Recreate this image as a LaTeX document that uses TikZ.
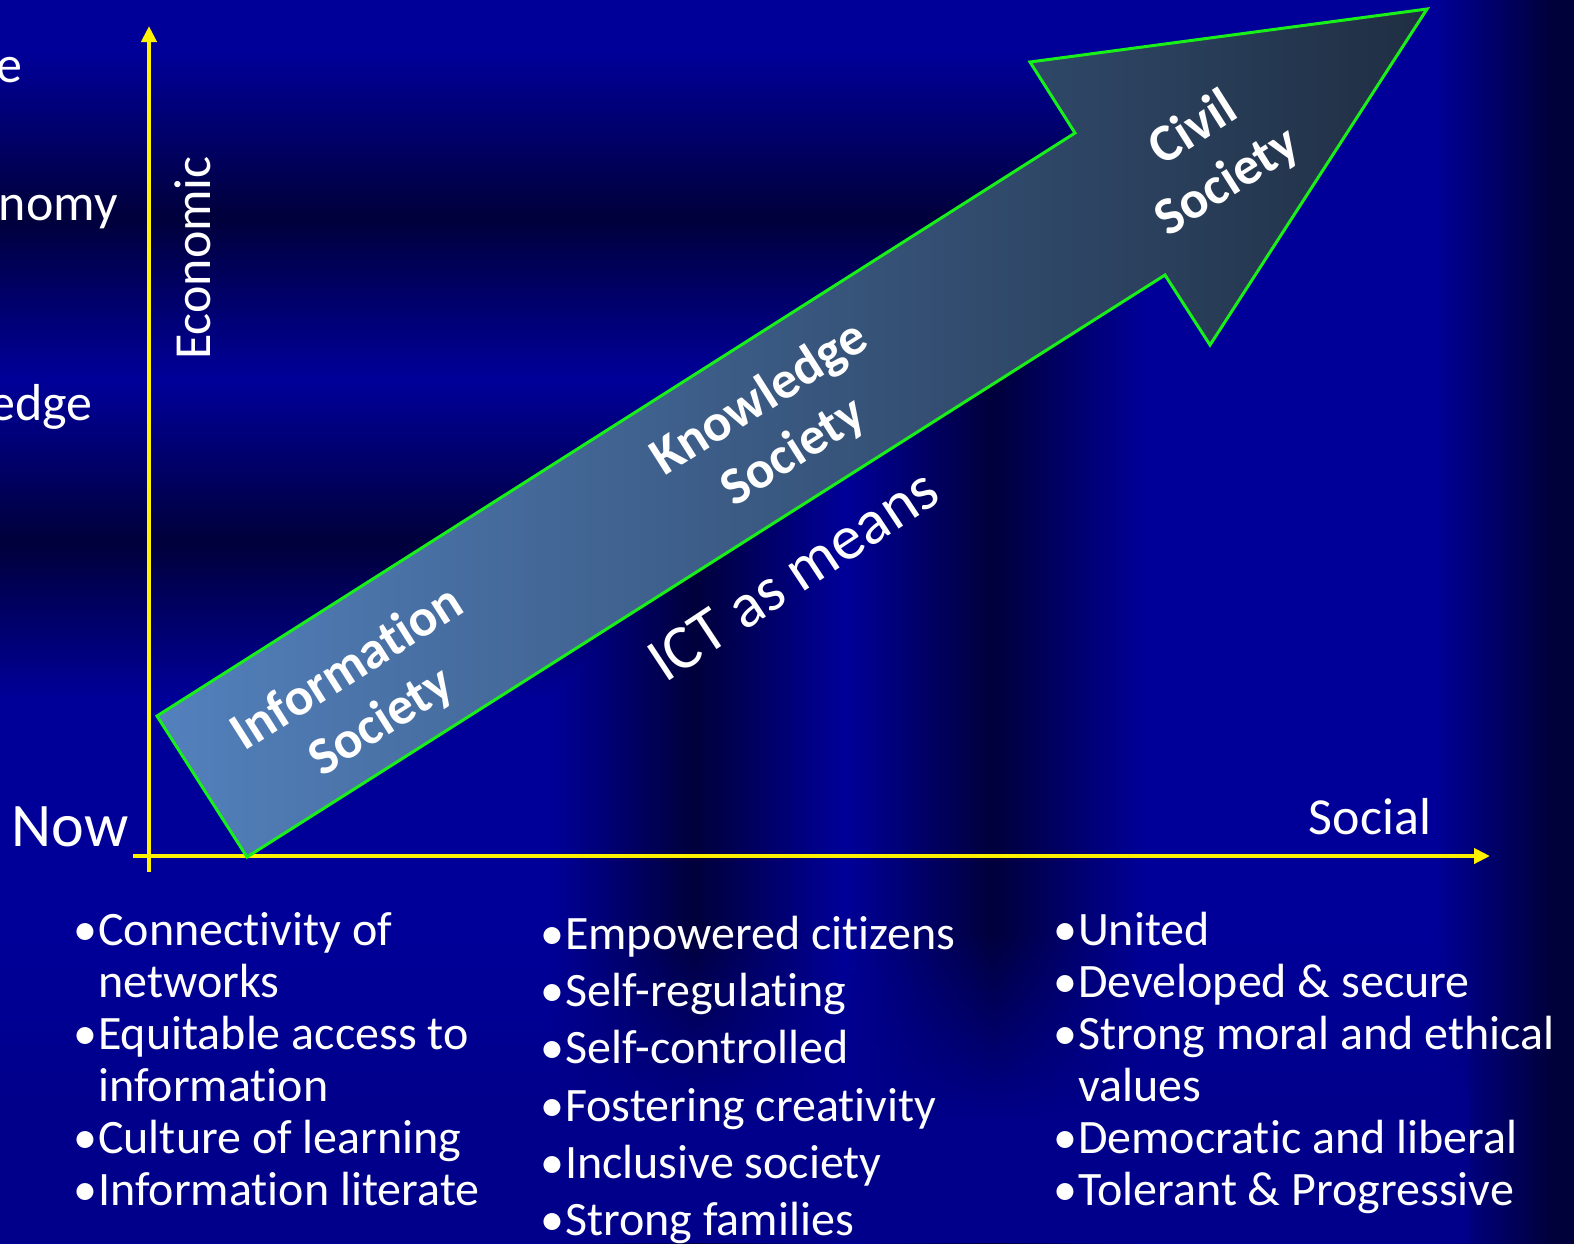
\documentclass[tikz,border=0pt]{standalone}
\usepackage{fontspec}
\setmainfont{Carlito}[Ligatures=NoCommon]
\usetikzlibrary{arrows.meta,fadings}

\definecolor{bgblue}{RGB}{0,0,153}
\definecolor{bgdark}{RGB}{0,0,58}
\definecolor{arrowlight}{RGB}{83,129,189}
\definecolor{arrowmid}{RGB}{66,104,152}
\definecolor{arrowdark}{RGB}{31,46,66}
\definecolor{rim}{RGB}{25,240,25}
\newcommand{\bul}{\makebox[25pt][l]{•}}
\tikzfading[name=fadein, top color=transparent!100, bottom color=transparent!0]

\begin{document}
\begin{tikzpicture}[x=1pt,y=-1pt,
  axis/.style={yellow,line width=4pt,-{Triangle[length=16pt,width=15pt]}},
  stage/.style={text=white,align=center,font=\fontsize{53}{63}\selectfont\bfseries},
  axislab/.style={text=white,inner sep=0pt,font=\fontsize{52}{60}\selectfont},
  item/.style={anchor=base west,inner sep=0pt,text=white,font=\fontsize{48}{52}\selectfont}]
\useasboundingbox (0,0) rectangle (1574,1243);

% background: rectangular gradient
\begin{scope}
\clip (0,0) rectangle (1574,1243);
\fill[bgblue] (0,0) rectangle (1574,1243);
\foreach \b in {1800,1795,...,0}{
  \pgfmathtruncatemacro\p{(\b<600)?0:((\b<758)?(\b-600)/158*100:((\b<920)?(920-\b)/162*100:((\b<1083)?(\b-920)/163*100:((\b<1250)?(1250-\b)/167*100:((\b<1560)?0:((\b<1690)?(\b-1560)/130*100:100))))))}
  \pgfmathsetmacro\a{0.92*\b}
  \fill[bgdark!\p!bgblue] (-\a,1298-\b) rectangle (\a,1298+\b);
}
% lighter strip under the bullets
\fill[bgblue!90!black,path fading=fadein] (0,930) rectangle (1470,1120);
\fill[bgblue!90!black] (0,1119) rectangle (1470,1243);
\end{scope}

% axes
\coordinate (ybot) at (149,872);
\coordinate (ytop) at (149,26);
\coordinate (xleft) at (133,856);
\coordinate (xright) at (1490,856);
\draw[axis] (ybot) -- (ytop);
\draw[axis] (xleft) -- (xright);

% big arrow
\draw[rim,line width=3pt,line join=miter,left color=arrowlight,middle color=arrowmid,right color=arrowdark]
  (157,716) -- (1075,133) -- (1030,62) -- (1427,9) -- (1210,345) -- (1165,275) -- (247,857) -- cycle;

\node[stage,rotate=32.4] (info) at (365,696) {Information\\Society};
\node[stage,rotate=32.4] (know) at (777,426) {Knowledge\\Society};
\node[stage,rotate=32.4] (civil) at (1211,156) {Civil\\Society};
\node[text=white,rotate=33.5,font=\fontsize{63}{70}\selectfont] (ict) at (793,575) {ICT as means};

% axis labels
\node[axislab,rotate=90] (econ) at (193,258) {Economic};
\node[axislab] (social) at (1370,817) {Social};
\node[axislab,font=\fontsize{62}{70}\selectfont] (now) at (70,827) {Now};

% cut words on the left
\node[axislab,anchor=base east] (frag1) at (23,82) {e};
\node[axislab,anchor=base east] (frag2) at (118,220) {onomy};
\node[axislab,anchor=base east] (frag3) at (93,420) {edge};

% first column
\node[item] (c1a) at (73,945) {\bul Connectivity of};
\node[item] (c1b) at (98,997) {networks};
\node[item] (c1c) at (73,1049) {\bul Equitable access to};
\node[item] (c1d) at (98,1101) {information};
\node[item] (c1e) at (73,1153) {\bul Culture of learning};
\node[item] (c1f) at (73,1205) {\bul Information literate};

% second column
\node[item] (c2a) at (540,949) {\bul Empowered citizens};
\node[item] (c2b) at (540,1006) {\bul Self-regulating};
\node[item] (c2c) at (540,1063) {\bul Self-controlled};
\node[item] (c2d) at (540,1121) {\bul Fostering creativity};
\node[item] (c2e) at (540,1178) {\bul Inclusive society};
\node[item] (c2f) at (540,1235) {\bul Strong families};

% third column
\node[item] (c3a) at (1053,945) {\bul United};
\node[item] (c3b) at (1053,997) {\bul Developed \& secure};
\node[item] (c3c) at (1053,1049) {\bul Strong moral and ethical};
\node[item] (c3d) at (1078,1101) {values};
\node[item] (c3e) at (1053,1153) {\bul Democratic and liberal};
\node[item] (c3f) at (1053,1205) {\bul Tolerant \& Progressive};
\end{tikzpicture}
\end{document}
